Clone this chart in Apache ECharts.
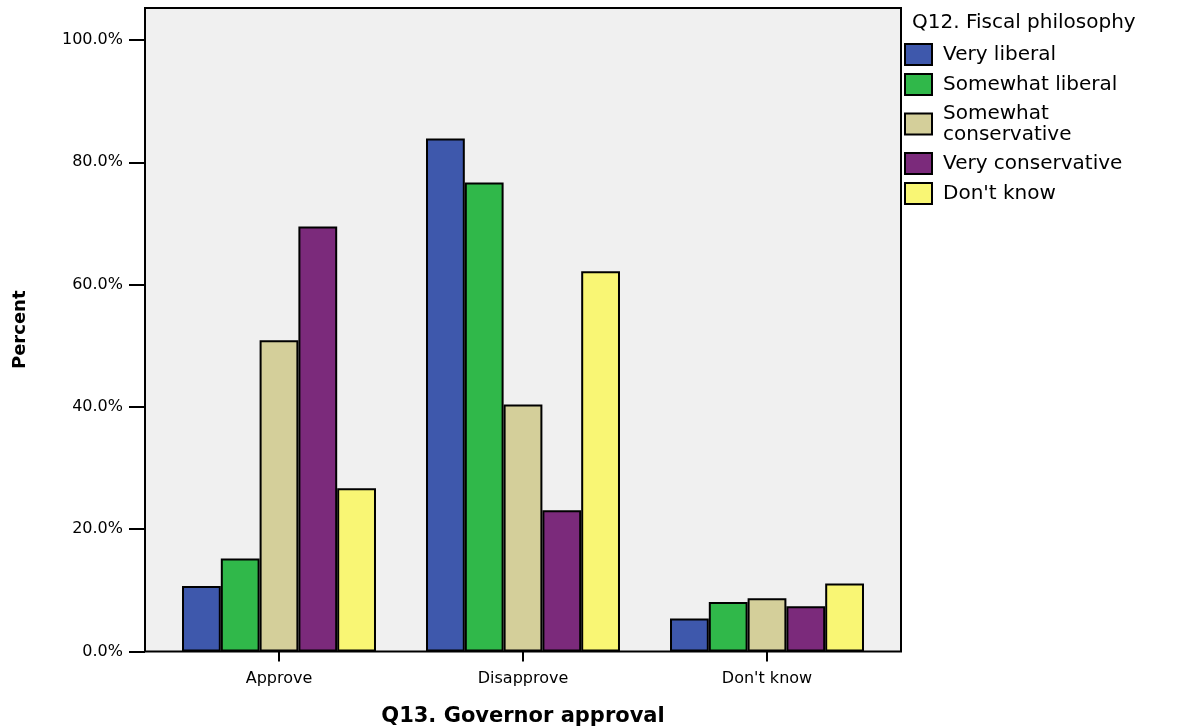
<!DOCTYPE html>
<html>
<head>
<meta charset="utf-8">
<script src="https://cdn.jsdelivr.net/npm/echarts@6/dist/echarts.min.js"></script>
<style>html,body{margin:0;padding:0;background:#fff;}#c{width:1187px;height:728px;}</style>
</head>
<body>
<div id="c"></div>
<script>
var categories = ['Approve', 'Disapprove', "Don't know"];
var veryLiberal = [10.7, 83.9, 5.4];
var somewhatLiberal = [15.2, 76.7, 8.1];
var somewhatConservative = [50.9, 40.4, 8.7];
var veryConservative = [69.5, 23.1, 7.4];
var dontKnow = [26.7, 62.2, 11.1];
var seriesNames = ['Very liberal', 'Somewhat liberal', 'Somewhat conservative', 'Very conservative', "Don't know"];
var seriesColors = ['#3e58ac', '#30b84a', '#d4cf9a', '#7b2a7b', '#f9f674'];
var yTicks = [0, 20, 40, 60, 80, 100];

var FONT = 'DejaVu Sans';
var seriesData = [veryLiberal, somewhatLiberal, somewhatConservative, veryConservative, dontKnow];
var series = seriesNames.map(function (n, i) {
  return {
    name: n, type: 'bar', xAxisIndex: 1, yAxisIndex: 1,
    data: seriesData[i], barGap: 0, barCategoryGap: '20.5%',
    itemStyle: { color: seriesColors[i], borderColor: '#000', borderWidth: 2 },
    emphasis: { disabled: true }
  };
});

var chart = echarts.init(document.getElementById('c'), null, { renderer: 'canvas' });
chart.setOption({
  animation: false,
  backgroundColor: '#fff',
  title: {
    text: 'Q12. Fiscal philosophy', left: 912, top: 13, padding: 0,
    textStyle: { fontFamily: FONT, fontSize: 20, fontWeight: 'normal', color: '#000' }
  },
  legend: {
    orient: 'vertical', left: 904, top: 43, padding: 0,
    itemWidth: 27, itemHeight: 21, itemGap: 7, icon: 'rect',
    data: seriesNames,
    formatter: function (n) { return n === 'Somewhat conservative' ? 'Somewhat\nconservative' : n; },
    textStyle: { fontFamily: FONT, fontSize: 20, lineHeight: 21, color: '#000', padding: [0, 0, 0, 6] }
  },
  grid: [
    { left: 145, right: 286, top: 8, bottom: 76.5, show: true, backgroundColor: '#f0f0f0', borderColor: '#000', borderWidth: 2, outerBoundsMode: 'none', containLabel: false },
    { left: 157, right: 298, top: 40, bottom: 76.5, outerBoundsMode: 'none', containLabel: false }
  ],
  xAxis: [
    { gridIndex: 0, type: 'value', show: false },
    {
      gridIndex: 1, type: 'category', data: categories,
      axisLine: { show: false },
      axisTick: { show: true, alignWithLabel: true, length: 10, lineStyle: { color: '#000', width: 2 } },
      axisLabel: { margin: 19, fontFamily: FONT, fontSize: 16, color: '#000' },
      name: 'Q13. Governor approval', nameLocation: 'middle', nameGap: 55,
      nameTextStyle: { fontFamily: FONT, fontSize: 21, fontWeight: 'bold', color: '#000' }
    }
  ],
  yAxis: [
    {
      gridIndex: 0, type: 'value', min: 0, max: 1,
      axisLine: { show: false }, axisTick: { show: false }, axisLabel: { show: false }, splitLine: { show: false },
      name: 'Percent', nameLocation: 'middle', nameGap: 116,
      nameTextStyle: { fontFamily: FONT, fontSize: 18, fontWeight: 'bold', color: '#000' }
    },
    {
      gridIndex: 1, type: 'value', min: yTicks[0], max: yTicks[yTicks.length - 1], interval: 20, offset: 12,
      axisLine: { show: false },
      axisTick: { show: true, length: 16, lineStyle: { color: '#000', width: 2 } },
      axisLabel: { margin: 22, fontFamily: FONT, fontSize: 16, color: '#000', formatter: function (v) { return v.toFixed(1) + '%'; } },
      splitLine: { show: false }
    }
  ],
  series: series
});
</script>
</body>
</html>
